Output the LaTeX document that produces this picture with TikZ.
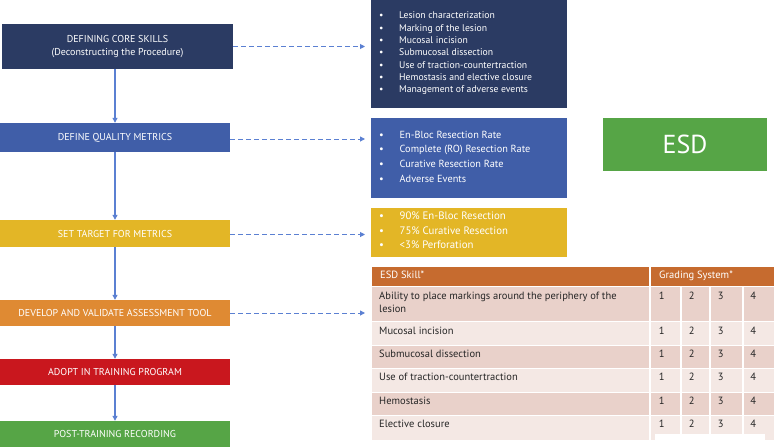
\documentclass[tikz,border=0pt]{standalone}
\usepackage{fontspec}
\setmainfont{PT Sans}
\usetikzlibrary{arrows.meta}
\definecolor{navy}{HTML}{2B3B63}
\definecolor{qblue}{HTML}{405EA8}
\definecolor{tyellow}{HTML}{E3B626}
\definecolor{dorange}{HTML}{DF8A33}
\definecolor{ared}{HTML}{C9171E}
\definecolor{pgreen}{HTML}{56A546}
\definecolor{linkblue}{HTML}{5B80D2}
\definecolor{thead}{HTML}{C66B2F}
\definecolor{rowdark}{HTML}{E9D1CA}
\definecolor{rowlight}{HTML}{F4E8E4}
\begin{document}
\begin{tikzpicture}[x=1pt,y=-1pt,
  lbox/.style={rectangle, inner sep=0pt, text=white, font=\fontsize{10}{13.5}\selectfont, align=center, minimum width=230pt},
  rbox/.style={rectangle, inner sep=0pt, minimum width=196pt},
  flow/.style={draw=linkblue, line width=1.1pt, -{Triangle[length=5pt,width=5pt]}},
  dflow/.style={draw=linkblue, line width=1pt, dash pattern=on 5pt off 3pt, -{Triangle[length=5pt,width=5pt]}},
  bitem/.style={anchor=west, inner sep=0pt, text height=6.5pt, text depth=2pt, text=white},
  tcell/.style={anchor=west, inner sep=0pt, text height=6.5pt, text depth=2pt, font=\fontsize{10.5}{12}\selectfont, text=black!85},
  tnum/.style={inner sep=0pt, text height=6.5pt, text depth=2pt, font=\fontsize{10.5}{12}\selectfont, text=black!85},
  colline/.style={draw=white, line width=1.2pt}]
\useasboundingbox (0,0) rectangle (775,447);

% left flow boxes
\node[lbox, fill=navy, minimum width=231pt, minimum height=45pt] (b1) at (117.5,46.5) {DEFINING CORE SKILLS\\(Deconstructing the Procedure)};
\node[lbox, fill=qblue, minimum height=29pt] (b2) at (115,137.5) {DEFINE QUALITY METRICS};
\node[lbox, fill=tyellow, minimum height=27pt] (b3) at (115,233.5) {SET TARGET FOR METRICS};
\node[lbox, fill=dorange, minimum height=26pt] (b4) at (115,313) {DEVELOP AND VALIDATE ASSESSMENT TOOL};
\node[lbox, fill=ared, minimum height=26pt] (b5) at (115,372) {ADOPT IN TRAINING PROGRAM};
\node[lbox, fill=pgreen, minimum height=26pt] (b6) at (115,434) {POST-TRAINING RECORDING};

\draw[flow] (b1.south -| b2.north) -- (b2.north);
\draw[flow] (b2.south) -- (b3.north);
\draw[flow] (b3.south) -- (b4.north);
\draw[flow] (b4.south) -- (b5.north);
\draw[flow] (b5.south) -- (b6.north);

% right boxes
\node[rbox, fill=navy, minimum height=108pt] (r1) at (469,54) {};
\node[rbox, fill=qblue, minimum height=80pt] (r2) at (469,158) {};
\node[rbox, fill=tyellow, minimum height=49pt] (r3) at (469,232.5) {};
\node[rectangle, inner sep=0pt, fill=pgreen, minimum width=164pt, minimum height=53pt, text=white, font=\fontsize{26}{30}\selectfont] (esd) at (685,144.5) {ESD};

\coordinate (e1) at (365,46.5);
\coordinate (e2) at (365,139);
\coordinate (e3) at (365,234.5);
\coordinate (e4) at (365,313);
\draw[dflow] (b1.east) -- (e1);
\draw[dflow] (b2.east |- e2) -- (e2);
\draw[dflow] (b3.east |- e3) -- (e3);
\draw[dflow] (b4.east) -- (e4);

% bullet lists
\foreach \t [count=\i] in {Lesion characterization, Marking of the lesion, Mucosal incision, Submucosal dissection, Use of traction-countertraction, Hemostasis and elective closure, Management of adverse events}
  \node[bitem, font=\fontsize{9.7}{10}\selectfont] (l1-\i) at (379,16.7+12.3*\i-12.3) {\makebox[20pt][l]{\textbullet}\t};
\foreach \t [count=\i] in {En-Bloc Resection Rate, Complete (RO) Resection Rate, Curative Resection Rate, Adverse Events}
  \node[bitem, font=\fontsize{10.3}{11}\selectfont] (l2-\i) at (379,136+14.6*\i-14.6) {\makebox[20.5pt][l]{\textbullet}\t};
\foreach \t [count=\i] in {90\% En-Bloc Resection, 75\% Curative Resection, <3\% Perforation}
  \node[bitem, font=\fontsize{10.8}{11}\selectfont] (l3-\i) at (379,217.5+14.3*\i-14.3) {\makebox[20.5pt][l]{\textbullet}\t};

% table
\fill[thead] (372,267) rectangle (774,286);
\fill[rowdark] (372,287) rectangle (774,321);
\fill[rowlight] (372,321) rectangle (774,345);
\fill[rowdark] (372,345) rectangle (774,368);
\fill[rowlight] (372,368) rectangle (774,392);
\fill[rowdark] (372,392) rectangle (774,415);
\fill[rowlight] (372,415) rectangle (774,440);
\draw[colline] (650,267) -- (650,440);
\foreach \cx in {681,710,743} \draw[colline] (\cx,287) -- (\cx,440);
\foreach \ry in {321,345,368,392,415} \draw[draw=white, line width=0.5pt] (372,\ry) -- (774,\ry);
\fill[white] (655,434) rectangle (765,441);

\node[tcell, text=white] (h1) at (380,276.5) {ESD Skill*};
\node[tcell, text=white] (h2) at (659,276.5) {Grading System*};
\node[tcell] (s1a) at (379,297.3) {Ability to place markings around the periphery of the};
\node[tcell] (s1b) at (379,310.3) {lesion};
\node[tcell] (s2) at (379,332.3) {Mucosal incision};
\node[tcell] (s3) at (379,355.7) {Submucosal dissection};
\node[tcell] (s4) at (379,378.7) {Use of traction-countertraction};
\node[tcell] (s5) at (379,402.7) {Hemostasis};
\node[tcell] (s6) at (379,425.7) {Elective closure};
\foreach \ry [count=\j] in {297.3,332.3,355.7,378.7,402.7,425.7}
  \foreach \nx [count=\k] in {661.7,691.7,720.7,753.3}
    \node[tnum] (n\j-\k) at (\nx,\ry) {\k};
\end{tikzpicture}
\end{document}
